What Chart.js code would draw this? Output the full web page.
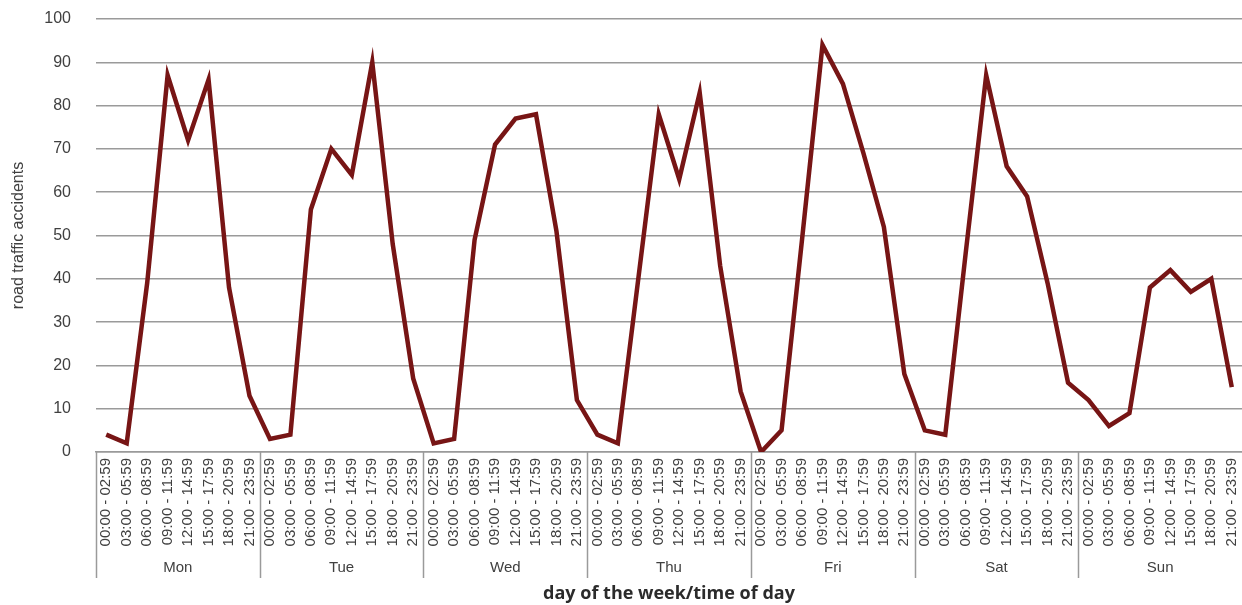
<!DOCTYPE html>
<html lang="en">
<head>
    <meta charset="UTF-8">
    <title>Road traffic accidents by day of the week and time of day</title>
    <style>
        html, body {
            margin: 0;
            padding: 0;
            background: #ffffff;
        }
        .wrap {
            width: 1242px;
            height: 605px;
        }
    </style>
</head>
<body>
    <div class="wrap">
        <canvas id="chart" width="1242" height="605"></canvas>
    </div>

    <script src="https://cdn.jsdelivr.net/npm/chart.js"></script>
    <script>
        // days of the week (outer category) and time slots (inner category)
        const days = ['Mon', 'Tue', 'Wed', 'Thu', 'Fri', 'Sat', 'Sun'];
        const timeSlots = [
            '00:00 - 02:59', '03:00 - 05:59', '06:00 - 08:59', '09:00 - 11:59',
            '12:00 - 14:59', '15:00 - 17:59', '18:00 - 20:59', '21:00 - 23:59'
        ];

        // accidents per time slot, one array per day
        const mon = [4, 2, 39, 87, 72, 86, 38, 13];
        const tue = [3, 4, 56, 70, 64, 90, 48, 17];
        const wed = [2, 3, 49, 71, 77, 78, 51, 12];
        const thu = [4, 2, 40, 78, 63, 83, 43, 14];
        const fri = [0, 5, 49, 94, 85, 69, 52, 18];
        const sat = [5, 4, 46, 87, 66, 59, 39, 16];
        const sun = [12, 6, 9, 38, 42, 37, 40, 15];

        const yTicks = [0, 10, 20, 30, 40, 50, 60, 70, 80, 90, 100];

        const textColor = '#404040';
        const gridColor = '#9a9a9a';

        const labels = [];
        days.forEach(() => timeSlots.forEach(t => labels.push(t)));
        const values = [].concat(mon, tue, wed, thu, fri, sat, sun);

        // day names under the time labels, with dividers between the days
        const dayGroups = {
            id: 'dayGroups',
            afterDraw(chart) {
                const ctx = chart.ctx;
                const x = chart.scales.x;
                const n = timeSlots.length;
                const half = (x.getPixelForValue(1) - x.getPixelForValue(0)) / 2;
                const axisY = chart.chartArea.bottom;

                ctx.save();
                ctx.strokeStyle = gridColor;
                ctx.lineWidth = 1.5;
                days.forEach((d, i) => {
                    const left = x.getPixelForValue(i * n) - half;
                    ctx.beginPath();
                    ctx.moveTo(Math.round(left) + 0.5, axisY);
                    ctx.lineTo(Math.round(left) + 0.5, 578);
                    ctx.stroke();
                });

                ctx.fillStyle = textColor;
                ctx.font = '15px "Liberation Sans", Arial, sans-serif';
                ctx.textAlign = 'center';
                ctx.textBaseline = 'middle';
                days.forEach((d, i) => {
                    const left = x.getPixelForValue(i * n) - half;
                    const right = x.getPixelForValue(i * n + n - 1) + half;
                    ctx.fillText(d, (left + right) / 2, 568);
                });
                ctx.restore();
            }
        };

        new Chart(document.getElementById('chart'), {
            type: 'line',
            data: {
                labels: labels,
                datasets: [{
                    label: 'road traffic accidents',
                    data: values,
                    borderColor: '#771515',
                    borderWidth: 4.5,
                    borderJoinStyle: 'miter',
                    pointRadius: 0,
                    tension: 0,
                    fill: false
                }]
            },
            options: {
                responsive: false,
                animation: false,
                layout: {
                    padding: { top: 19, right: 0, bottom: 0, left: 0 }
                },
                plugins: {
                    legend: { display: false },
                    tooltip: { enabled: false }
                },
                scales: {
                    x: {
                        type: 'category',
                        offset: true,
                        grid: { display: false, drawTicks: false },
                        border: { display: true, color: gridColor, width: 1.5 },
                        ticks: {
                            autoSkip: false,
                            minRotation: 90,
                            maxRotation: 90,
                            padding: 6,
                            color: textColor,
                            font: { family: '"Liberation Sans", Arial, sans-serif', size: 15 }
                        },
                        title: {
                            display: true,
                            text: 'day of the week/time of day',
                            color: '#2b2b2b',
                            padding: { top: 0, bottom: 0 },
                            font: { family: '"Open Sans", sans-serif', size: 18, weight: 'bold' }
                        },
                        afterFit(scale) {
                            scale.height = 153;
                            scale.paddingLeft = 0;
                            scale.paddingRight = 0;
                        }
                    },
                    y: {
                        min: 0,
                        max: 100,
                        afterBuildTicks(scale) {
                            scale.ticks = yTicks.map(v => ({ value: v }));
                        },
                        grid: { color: gridColor, lineWidth: 1.5, drawTicks: false },
                        border: { display: false },
                        ticks: {
                            padding: 25,
                            color: textColor,
                            font: { family: '"Liberation Sans", Arial, sans-serif', size: 16 }
                        },
                        title: {
                            display: true,
                            text: 'road traffic accidents',
                            color: textColor,
                            padding: { top: 9, bottom: 0 },
                            font: { family: '"Liberation Sans", Arial, sans-serif', size: 16 }
                        },
                        afterFit(scale) {
                            scale.width = 96;
                            scale.paddingTop = 0;
                            scale.paddingBottom = 0;
                        }
                    }
                }
            },
            plugins: [dayGroups]
        });
    </script>
</body>
</html>
